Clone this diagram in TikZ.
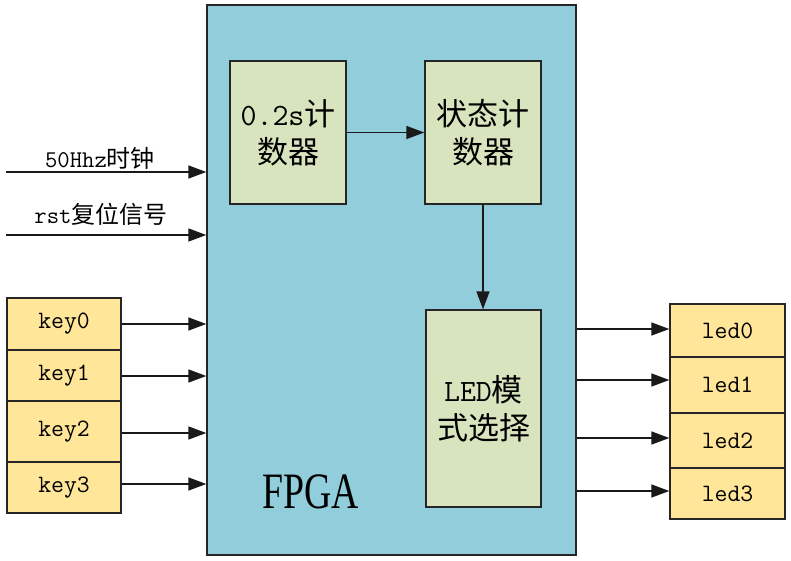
\documentclass[tikz,border=0pt]{standalone}
\usepackage{fontspec}
\setmainfont{Liberation Serif}
\newfontfamily\cjk{Noto Sans CJK SC}
\usetikzlibrary{arrows.meta}
\definecolor{fpgablue}{HTML}{92CDDC}
\definecolor{modgreen}{HTML}{D7E4BD}
\definecolor{ioyellow}{HTML}{FFE699}
\tikzset{
  box/.style={draw=black!85, line width=1.4pt, rectangle, inner sep=0pt, align=center},
  fpgabox/.style={box, fill=fpgablue},
  modbox/.style={box, fill=modgreen, minimum width=116pt, font=\ttfamily\fontsize{31}{38}\selectfont},
  iobox/.style={box, fill=ioyellow, minimum width=114pt, font=\ttfamily\fontsize{25}{29}\selectfont},
  arr/.style={line width=1.5pt, draw=black!90, -{Triangle[length=18pt,width=13pt]}},
  lbl/.style={font=\ttfamily\fontsize{24}{28}\selectfont, inner sep=0pt}
}
\begin{document}
\begin{tikzpicture}[x=1pt,y=-1pt]
\useasboundingbox (0,0) rectangle (791,560);
% FPGA
\node[fpgabox, minimum width=369pt, minimum height=550pt] (fpga) at (391.5,280) {};
\node[inner sep=0pt, font=\fontsize{51}{55}\selectfont] (fpgalbl) at (311,492) {\scalebox{0.74}[1]{FPGA}};
% modules
\node[modbox, minimum height=143pt] (cnt) at (288,132.5) {0.2s{\cjk 计}\\{\cjk 数器}};
\node[modbox, minimum height=143pt] (state) at (483,132.5) {{\cjk 状态计}\\{\cjk 数器}};
\node[modbox, minimum width=115pt, minimum height=197pt] (mode) at (483.5,408.5) {LED{\cjk 模}\\{\cjk 式选择}};
\draw[arr] (cnt.east) -- (state.west);
\draw[arr] (state.south) -- (state.south |- mode.north);
% inputs
\coordinate (clkin) at (6,172);
\coordinate (rstin) at (6,235);
\node[lbl] (clklbl) at (100,158) {50Hhz{\cjk 时钟}};
\node[lbl] (rstlbl) at (101,214) {rst{\cjk 复位信号}};
\draw[arr] (clkin) -- (clkin -| fpga.west);
\draw[arr] (rstin) -- (rstin -| fpga.west);
% keys
\node[iobox, minimum height=52pt] (key0) at (64,324) {key0};
\node[iobox, minimum height=51pt] (key1) at (64,375.5) {key1};
\node[iobox, minimum height=61pt] (key2) at (64,431.5) {key2};
\node[iobox, minimum height=51pt] (key3) at (64,487.5) {key3};
\draw[arr] (key0.east) -- (key0.east -| fpga.west);
\draw[arr] ([yshift=-0.5pt]key1.east) -- ([yshift=-0.5pt]key1.east -| fpga.west);
\draw[arr] ([yshift=-1.5pt]key2.east) -- ([yshift=-1.5pt]key2.east -| fpga.west);
\draw[arr] ([yshift=3.5pt]key3.east) -- ([yshift=3.5pt]key3.east -| fpga.west);
% leds
\node[iobox, minimum width=115pt, minimum height=53pt] (led0) at (727.5,330.5) {led0};
\node[iobox, minimum width=115pt, minimum height=56pt] (led1) at (727.5,385) {led1};
\node[iobox, minimum width=115pt, minimum height=55pt] (led2) at (727.5,440.5) {led2};
\node[iobox, minimum width=115pt, minimum height=51pt] (led3) at (727.5,493.5) {led3};
\draw[arr] ([yshift=1.5pt]led0.west -| fpga.east) -- ([yshift=1.5pt]led0.west);
\draw[arr] ([yshift=5pt]led1.west -| fpga.east) -- ([yshift=5pt]led1.west);
\draw[arr] ([yshift=2.5pt]led2.west -| fpga.east) -- ([yshift=2.5pt]led2.west);
\draw[arr] ([yshift=2.5pt]led3.west -| fpga.east) -- ([yshift=2.5pt]led3.west);
\end{tikzpicture}
\end{document}
